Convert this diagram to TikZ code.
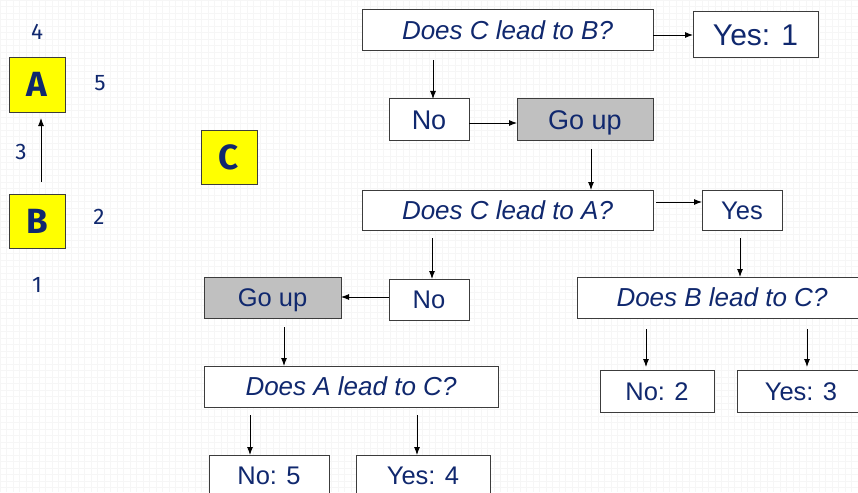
\documentclass[tikz,border=0pt]{standalone}
\usepackage{fontspec}
\setmainfont{Liberation Sans}
\newfontfamily\labelfont{Fira Sans}
\usetikzlibrary{arrows.meta}
\definecolor{ink}{RGB}{16,40,110}
\definecolor{edge}{RGB}{60,60,60}
\definecolor{yellowbox}{RGB}{255,255,0}
\definecolor{graybox}{RGB}{192,192,192}
\tikzset{
  fbox/.style={draw=edge, line width=1pt, fill=white, inner sep=0pt, outer sep=0pt,
    text height=18.3pt, text depth=0pt,
    text=ink, font=\fontsize{25.5}{26}\selectfont},
  bigtext/.style={font=\fontsize{27}{28}\selectfont, text height=19.3pt},
  qbox/.style={fbox, font=\fontsize{26}{27}\selectfont\itshape, text height=18.6pt},
  upbox/.style={fbox, fill=graybox},
  letterbox/.style={draw=edge, line width=1pt, fill=yellowbox, inner sep=0pt, outer sep=0pt,
    text height=24pt, text depth=0pt,
    minimum width=56pt, minimum height=54pt, text=ink, font=\labelfont\bfseries\fontsize{35}{36}\selectfont},
  numlabel/.style={text=ink, inner sep=0pt, font=\labelfont\fontsize{22.5}{23}\selectfont},
  arr/.style={-{Latex[length=8pt,width=6pt]}, line width=0.9pt, black},
}
\begin{document}
\begin{tikzpicture}[x=1pt, y=-1pt]
\useasboundingbox (0,0) rectangle (858,492);
% faint background grid
\fill[white] (0,0) rectangle (858,492);
\draw[black!3.5, line width=0.5pt, step=6.5pt] (0,0) grid (858,492);

% the three vertices
\node[letterbox] (A) at (37,85) {A};
\node[letterbox] (B) at (37,221.5) {B};
\node[letterbox] (C) at (229,157.5) {C};
\draw[arr, shorten <=13pt, shorten >=6pt] (B.north -| 41,0) -- (A.south -| 41,0);

% numbering of the regions around A and B
\node[numlabel] (n4) at (37,32) {4};
\node[numlabel] (n5) at (100,83) {5};
\node[numlabel] (n3) at (21,152) {3};
\node[numlabel] (n2) at (99,217) {2};
\node[numlabel] (n1) at (37,285) {1};

% decision tree
\node[qbox, minimum width=291pt, minimum height=41pt] (qCB) at (507.5,30.5) {Does C lead to B?};
\node[fbox, minimum width=125pt, minimum height=46pt, font=\fontsize{30}{31}\selectfont, text height=21.5pt] (yes1) at (755.5,35) {Yes: 1};
\node[fbox, bigtext, minimum width=80pt, minimum height=41pt] (no1) at (429,119.5) {No};
\node[upbox, bigtext, minimum width=136pt, minimum height=41pt] (up1) at (585,119.5) {Go up};
\node[qbox, minimum width=291pt, minimum height=40pt] (qCA) at (507.5,210) {Does C lead to A?};
\node[fbox, minimum width=80pt, minimum height=40pt] (yesA) at (742,210) {Yes};
\node[fbox, minimum width=80pt, minimum height=41pt] (no2) at (429,299.5) {No};
\node[upbox, minimum width=137pt, minimum height=41pt] (up2) at (272.5,297.5) {Go up};
\node[qbox, minimum width=294pt, minimum height=41pt] (qAC) at (351,386.5) {Does A lead to C?};
\node[fbox, minimum width=120pt, minimum height=41pt] (no5) at (269,475.5) {No: 5};
\node[fbox, minimum width=134pt, minimum height=41pt] (yes4) at (423,475.5) {Yes: 4};
\node[qbox, minimum width=290pt, minimum height=41pt] (qBC) at (722,297.5) {Does B lead to C?};
\node[fbox, minimum width=114pt, minimum height=42pt] (no2r) at (657,391) {No: 2};
\node[fbox, minimum width=128pt, minimum height=42pt] (yes3) at (801,391) {Yes: 3};

% connectors
\draw[arr] (qCB.east |- yes1.west) -- (yes1.west);
\draw[arr, shorten <=9pt] ([xshift=4pt]qCB.south -| no1.north) -- ([xshift=4pt]no1.north);
\draw[arr] (no1.east |- 0,123) -- (up1.west |- 0,123);
\draw[arr, shorten <=9pt] ([xshift=6pt]up1.south) -- ([xshift=6pt]up1.south |- qCA.north);
\draw[arr, shorten <=3pt] ([yshift=8pt]qCA.east) -- ([yshift=8pt]yesA.west);
\draw[arr, shorten <=8pt] ([xshift=-2pt]yesA.south) -- ([xshift=-2pt]yesA.south |- qBC.north);
\draw[arr, shorten <=8pt] ([xshift=3pt]qCA.south -| no2.north) -- ([xshift=3pt]no2.north);
\draw[arr] ([yshift=2.5pt]no2.west) -- ([yshift=2.5pt]no2.west -| up2.east);
\draw[arr, shorten <=9pt] ([xshift=11.5pt]up2.south) -- ([xshift=11.5pt]up2.south |- qAC.north);
\draw[arr, shorten <=8pt] ([xshift=-19pt]qAC.south -| no5.north) -- ([xshift=-19pt]no5.north);
\draw[arr, shorten <=8pt] ([xshift=-6pt]qAC.south -| yes4.north) -- ([xshift=-6pt]yes4.north);
\draw[arr, shorten <=11pt, shorten >=3pt] ([xshift=-11pt]qBC.south -| no2r.north) -- ([xshift=-11pt]no2r.north);
\draw[arr, shorten <=11pt, shorten >=3pt] ([xshift=6pt]qBC.south -| yes3.north) -- ([xshift=6pt]yes3.north);
\end{tikzpicture}
\end{document}
